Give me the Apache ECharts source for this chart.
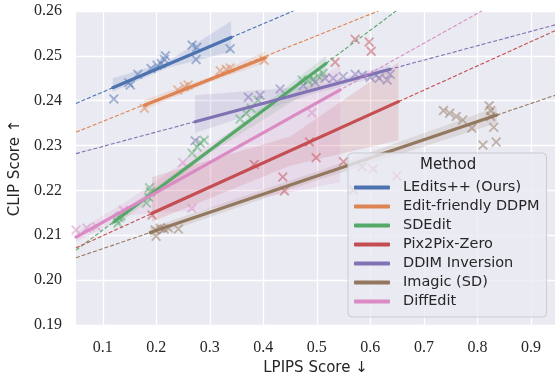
<!DOCTYPE html>
<html>
<head>
<meta charset="utf-8">
<script src="https://cdn.jsdelivr.net/npm/echarts@6/dist/echarts.min.js"></script>
<style>
  html, body { margin: 0; padding: 0; background: #fff; }
  #chart { width: 555px; height: 375px; }
</style>
</head>
<body>
<div id="chart"></div>
<script>
// methods + seaborn "deep" colours
var methods = ['LEdits++ (Ours)', 'Edit-friendly DDPM', 'SDEdit', 'Pix2Pix-Zero', 'DDIM Inversion', 'Imagic (SD)', 'DiffEdit'];
var colors = ['#4C72B0', '#DD8452', '#55A868', '#C44E52', '#8172B3', '#937860', '#DA8BC3'];

// scatter points [LPIPS, CLIP]
var ptsLedits = [[0.1206,0.2404],[0.1486,0.2440],[0.1516,0.2435],[0.1654,0.2459],[0.1903,0.2472],[0.2015,0.2479],[0.2090,0.2483],[0.2170,0.2500],[0.2151,0.2492],[0.2669,0.2524],[0.2757,0.2519],[0.2744,0.2492],[0.3379,0.2516]];
var ptsEditFriendly = [[0.1778,0.2383],[0.2402,0.2424],[0.2525,0.2431],[0.2594,0.2435],[0.3193,0.2467],[0.3305,0.2470],[0.3380,0.2473],[0.4015,0.2490]];
var ptsSDEdit = [[0.1249,0.2134],[0.1305,0.2139],[0.1286,0.2127],[0.1342,0.2143],[0.1817,0.2172],[0.1854,0.2185],[0.1892,0.2197],[0.1873,0.2206],[0.2669,0.2283],[0.2762,0.2297],[0.2819,0.2306],[0.2894,0.2312],[0.3566,0.2359],[0.3678,0.2372],[0.3772,0.2383],[0.3903,0.2401],[0.4725,0.2446],[0.4837,0.2444],[0.4930,0.2448],[0.5024,0.2455],[0.5118,0.2461]];
var ptsPix2Pix = [[0.1921,0.2145],[0.3830,0.2258],[0.4364,0.2230],[0.4394,0.2199],[0.4862,0.2308],[0.4987,0.2273],[0.5342,0.2486],[0.5497,0.2264],[0.5684,0.2201],[0.5716,0.2537],[0.5841,0.2253],[0.5978,0.2531],[0.6015,0.2510],[0.6052,0.2248],[0.6495,0.2232]];
var ptsDDIM = [[0.2725,0.2311],[0.3721,0.2408],[0.3940,0.2412],[0.4314,0.2426],[0.4744,0.2434],[0.4968,0.2441],[0.5155,0.2450],[0.5305,0.2450],[0.5492,0.2454],[0.5716,0.2459],[0.5847,0.2457],[0.5996,0.2452],[0.6108,0.2457],[0.6164,0.2450],[0.6314,0.2446],[0.6370,0.2459]];
var ptsImagic = [[0.1978,0.2112],[0.1996,0.2098],[0.2071,0.2116],[0.2146,0.2114],[0.2226,0.2116],[0.2413,0.2114],[0.7366,0.2378],[0.7482,0.2372],[0.7604,0.2365],[0.7725,0.2357],[0.7897,0.2339],[0.8220,0.2389],[0.8249,0.2378],[0.8249,0.2365],[0.8305,0.2341],[0.8103,0.2301],[0.8351,0.2308]];
var ptsDiffEdit = [[0.0501,0.2112],[0.0701,0.2116],[0.0888,0.2119],[0.1385,0.2156],[0.2495,0.2262],[0.2664,0.2160],[0.4907,0.2373]];

// regression line over the data range (solid)
var fitLedits = [[0.1187,0.2429],[0.3398,0.2541]];
var fitEditFriendly = [[0.1778,0.2390],[0.4034,0.2496]];
var fitSDEdit = [[0.1211,0.2130],[0.5172,0.2483]];
var fitPix2Pix = [[0.1921,0.2149],[0.6525,0.2398]];
var fitDDIM = [[0.2725,0.2353],[0.6370,0.2470]];
var fitImagic = [[0.1886,0.2106],[0.8364,0.2368]];
var fitDiffEdit = [[0.0501,0.2096],[0.5436,0.2424]];

// extended regression line (dashed)
var extLedits = [[0.05,0.2394],[0.456,0.26]];
var extEditFriendly = [[0.05,0.2330],[0.615,0.26]];
var extSDEdit = [[0.05,0.2067],[0.648,0.26]];
var extPix2Pix = [[0.05,0.2072],[0.945,0.2556]];
var extDDIM = [[0.05,0.2282],[0.945,0.2569]];
var extImagic = [[0.05,0.2050],[0.945,0.2412]];
var extDiffEdit = [[0.05,0.2095],[0.808,0.26]];

// confidence band [x, lower, upper]
var bandLedits = [[0.1187,0.2420,0.2450],[0.22,0.2473,0.2487],[0.3398,0.2509,0.2577]];
var bandEditFriendly = [[0.1778,0.2380,0.2402],[0.30,0.2441,0.2453],[0.4034,0.2484,0.2510]];
var bandSDEdit = [[0.1211,0.2118,0.2140],[0.30,0.2283,0.2295],[0.5172,0.2445,0.2500]];
var bandPix2Pix = [[0.1921,0.2130,0.2230],[0.45,0.2255,0.2320],[0.6525,0.2312,0.2486]];
var bandDDIM = [[0.2725,0.2328,0.2412],[0.50,0.2418,0.2434],[0.6370,0.2460,0.2480]];
var bandImagic = [[0.1886,0.2095,0.2117],[0.50,0.2222,0.2242],[0.8364,0.2350,0.2386]];
var bandDiffEdit = [[0.0501,0.2085,0.2108],[0.15,0.2145,0.2180],[0.282,0.2156,0.2290],[0.5436,0.2218,0.2479]];

var xTicks = [0.1, 0.2, 0.3, 0.4, 0.5, 0.6, 0.7, 0.8, 0.9];

var allPts = [ptsLedits, ptsEditFriendly, ptsSDEdit, ptsPix2Pix, ptsDDIM, ptsImagic, ptsDiffEdit];
var allFit = [fitLedits, fitEditFriendly, fitSDEdit, fitPix2Pix, fitDDIM, fitImagic, fitDiffEdit];
var allExt = [extLedits, extEditFriendly, extSDEdit, extPix2Pix, extDDIM, extImagic, extDiffEdit];
var allBand = [bandLedits, bandEditFriendly, bandSDEdit, bandPix2Pix, bandDDIM, bandImagic, bandDiffEdit];

var xMark = 'path://M1.3,0L5,3.7L8.7,0L10,1.3L6.3,5L10,8.7L8.7,10L5,6.3L1.3,10L0,8.7L3.7,5L0,1.3Z';

function bandQuads(band) {
  var out = [];
  for (var i = 0; i < band.length - 1; i++) {
    out.push(band[i].concat(band[i + 1]));
  }
  return out;
}

var series = [];
methods.forEach(function (m, k) {
  var c = colors[k];
  series.push({
    type: 'custom',
    clip: true,
    silent: true,
    data: bandQuads(allBand[k]),
    renderItem: function (params, api) {
      var p = [
        api.coord([api.value(0), api.value(1)]),
        api.coord([api.value(3), api.value(4)]),
        api.coord([api.value(3), api.value(5)]),
        api.coord([api.value(0), api.value(2)])
      ];
      return { type: 'polygon', shape: { points: p }, style: { fill: c, opacity: 0.16 } };
    }
  });
  series.push({
    type: 'scatter',
    data: allPts[k],
    symbol: xMark,
    symbolSize: 10,
    silent: true,
    itemStyle: { color: c, opacity: 0.5 }
  });
  series.push({
    type: 'line',
    data: allExt[k],
    showSymbol: false,
    silent: true,
    itemStyle: { color: c },
    lineStyle: { color: c, width: 1.1, type: [4, 2] }
  });
  series.push({
    name: m,
    type: 'line',
    data: allFit[k],
    showSymbol: false,
    silent: true,
    itemStyle: { color: c },
    lineStyle: { color: c, width: 3.2, cap: 'round' }
  });
});

var chart = echarts.init(document.getElementById('chart'), null, { renderer: 'canvas' });
chart.setOption({
  animation: false,
  backgroundColor: '#fff',
  grid: {
    left: 76, right: 0, top: 11, bottom: 50,
    outerBoundsMode: 'none', containLabel: false,
    show: true, backgroundColor: '#EAEAF2', borderWidth: 0
  },
  xAxis: {
    type: 'value', min: 0.05, max: 0.945, interval: 0.05,
    name: 'LPIPS Score ↓', nameLocation: 'middle', nameGap: 34,
    nameTextStyle: { fontFamily: 'DejaVu Sans', fontSize: 15, color: '#262626' },
    axisLine: { show: false }, axisTick: { show: false },
    axisLabel: {
      margin: 15, fontFamily: 'Liberation Serif', fontSize: 16, color: '#262626',
      formatter: function (v) {
        for (var i = 0; i < xTicks.length; i++) if (Math.abs(v - xTicks[i]) < 1e-6) return xTicks[i].toFixed(1);
        return '';
      }
    },
    splitLine: { show: true, lineStyle: { color: ['rgba(255,255,255,0)', '#ffffff'], width: 1.3 } }
  },
  yAxis: {
    type: 'value', min: 0.19, max: 0.26, interval: 0.01,
    name: 'CLIP Score ↑', nameLocation: 'middle', nameGap: 48, nameRotate: 90,
    nameTextStyle: { fontFamily: 'DejaVu Sans', fontSize: 15, color: '#262626' },
    axisLine: { show: false }, axisTick: { show: false },
    axisLabel: {
      margin: 14, fontFamily: 'Liberation Serif', fontSize: 16, color: '#262626',
      formatter: function (v) { return v.toFixed(2); }
    },
    splitLine: { show: true, lineStyle: { color: '#ffffff', width: 1.3 } }
  },
  legend: {
    data: methods,
    orient: 'vertical',
    left: 348, top: 153,
    z: 10,
    padding: [25, 7, 6, 6],
    itemGap: 0,
    itemWidth: 36, itemHeight: 4,
    icon: 'roundRect',
    backgroundColor: 'rgba(234,234,242,0.8)',
    borderColor: 'rgba(200,200,205,0.9)',
    borderWidth: 1,
    borderRadius: 4,
    selectedMode: false,
    textStyle: { fontFamily: 'DejaVu Sans', fontSize: 14.5, color: '#262626', lineHeight: 19, padding: [0, 0, 0, 8] }
  },
  graphic: [{
    type: 'text', left: 420, top: 158, z: 100,
    style: { text: 'Method', fontFamily: 'DejaVu Sans', fontSize: 15, fill: '#262626' }
  }],
  series: series
});
</script>
</body>
</html>
